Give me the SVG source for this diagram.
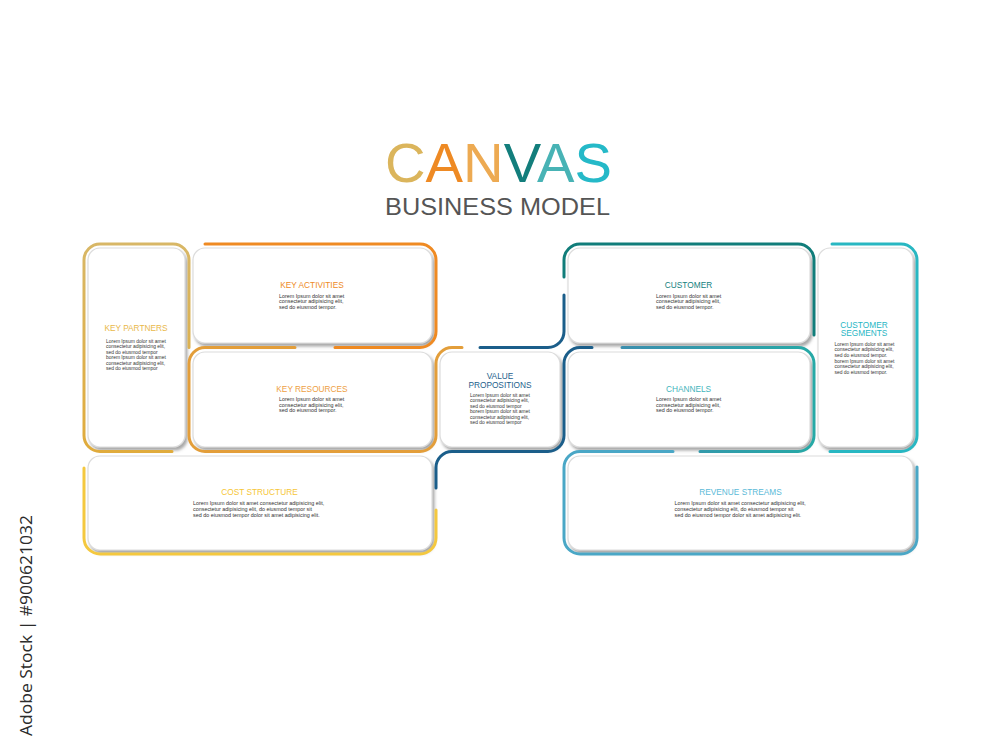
<svg xmlns="http://www.w3.org/2000/svg" width="1000" height="750" viewBox="0 0 1000 750">
<defs>
<filter id="sh" x="-10%" y="-10%" width="125%" height="130%">
<feGaussianBlur in="SourceAlpha" stdDeviation="1.8"/>
<feOffset dx="1.5" dy="2.5" result="b"/>
<feFlood flood-color="#6f6f6f" flood-opacity="0.6"/>
<feComposite in2="b" operator="in"/>
<feMerge><feMergeNode/><feMergeNode in="SourceGraphic"/></feMerge>
</filter>
<linearGradient id="gChan" x1="0" y1="0" x2="1" y2="0">
<stop offset="0" stop-color="#3c8fae"/><stop offset="1" stop-color="#26a9a6"/>
</linearGradient>
<linearGradient id="gKP" x1="0" y1="0" x2="0" y2="1">
<stop offset="0" stop-color="#d8b766"/><stop offset="1" stop-color="#e0ab3c"/>
</linearGradient>
</defs>
<style>
.box{fill:#fff;stroke:#dcdcdc;stroke-width:1.2;filter:url(#sh)}
.ln{fill:none;stroke-width:3;stroke-linecap:round}
.hd{font-family:"Liberation Sans",Arial,sans-serif;font-size:8.3px;text-anchor:middle}
.bd{font-family:"Liberation Sans",Arial,sans-serif;font-size:5.4px;fill:#333}
.bs{font-family:"Liberation Sans",Arial,sans-serif;font-size:4.95px;fill:#333}
</style>
<rect width="1000" height="750" fill="#fff"/>

<g id="title">
<text x="385" y="181.5" font-family="'Liberation Sans',Arial,sans-serif" font-size="55" textLength="227" lengthAdjust="spacingAndGlyphs"><tspan fill="#dbb55c">C</tspan><tspan fill="#ee8a24">A</tspan><tspan fill="#edaa52">N</tspan><tspan fill="#137e7c">V</tspan><tspan fill="#48b3b5">A</tspan><tspan fill="#25b9c8">S</tspan></text>
<text x="385" y="214.5" font-family="'Liberation Sans',Arial,sans-serif" font-size="24" fill="#555" textLength="225" lengthAdjust="spacingAndGlyphs">BUSINESS MODEL</text>
</g>

<g id="key-partners">
<rect class="box" x="88" y="248" width="97" height="199" rx="12"/>
<text class="hd" x="136" y="331" fill="#e9b84a">KEY PARTNERS</text>
<text class="bs"><tspan x="106" y="342.5">Lorem Ipsum dolor sit amet</tspan><tspan x="106" y="348">consectetur adipisicing elit,</tspan><tspan x="106" y="353.5">sed do eiusmod tempor</tspan><tspan x="106" y="359">borem Ipsum dolor sit amet</tspan><tspan x="106" y="364.5">consectetur adipisicing elit,</tspan><tspan x="106" y="370">sed do eiusmod tempor</tspan></text>
</g>

<g id="key-activities">
<rect class="box" x="193" y="248" width="239" height="95" rx="12"/>
<text class="hd" x="312" y="288" fill="#ee8a25">KEY ACTIVITIES</text>
<text class="bd"><tspan x="279" y="297.5">Lorem Ipsum dolor sit amet</tspan><tspan x="279" y="303.3">consectetur adipisicing elit,</tspan><tspan x="279" y="309.1">sed do eiusmod tempor.</tspan></text>
</g>

<g id="key-resources">
<rect class="box" x="193" y="352" width="239" height="95" rx="12"/>
<text class="hd" x="312" y="392" fill="#eea043">KEY RESOURCES</text>
<text class="bd"><tspan x="279" y="400.7">Lorem Ipsum dolor sit amet</tspan><tspan x="279" y="406.5">consectetur adipisicing elit,</tspan><tspan x="279" y="412.3">sed do eiusmod tempor.</tspan></text>
</g>

<g id="value-propositions">
<rect class="box" x="440" y="352" width="120" height="95" rx="12"/>
<text class="hd" fill="#1d5f8c"><tspan x="500" y="379">VALUE</tspan><tspan x="500" y="387.5">PROPOSITIONS</tspan></text>
<text class="bs"><tspan x="470" y="396.5">Lorem Ipsum dolor sit amet</tspan><tspan x="470" y="402">consectetur adipisicing elit,</tspan><tspan x="470" y="407.6">sed do eiusmod tempor</tspan><tspan x="470" y="413.1">borem Ipsum dolor sit amet</tspan><tspan x="470" y="418.7">consectetur adipisicing elit,</tspan><tspan x="470" y="424.3">sed do eiusmod tempor</tspan></text>
</g>

<g id="customer">
<rect class="box" x="568" y="248" width="242" height="95" rx="12"/>
<text class="hd" x="688.5" y="288" fill="#137f80">CUSTOMER</text>
<text class="bd"><tspan x="656" y="297.5">Lorem Ipsum dolor sit amet</tspan><tspan x="656" y="303.3">consectetur adipisicing elit,</tspan><tspan x="656" y="309.1">sed do eiusmod tempor.</tspan></text>
</g>

<g id="channels">
<rect class="box" x="568" y="352" width="242" height="95" rx="12"/>
<text class="hd" x="688.5" y="392" fill="#3fb4bb">CHANNELS</text>
<text class="bd"><tspan x="656" y="400.7">Lorem Ipsum dolor sit amet</tspan><tspan x="656" y="406.5">consectetur adipisicing elit,</tspan><tspan x="656" y="412.3">sed do eiusmod tempor.</tspan></text>
</g>

<g id="customer-segments">
<rect class="box" x="818" y="248" width="95" height="199" rx="12"/>
<text class="hd" fill="#28b6c4"><tspan x="864" y="327.5">CUSTOMER</tspan><tspan x="864" y="336.3">SEGMENTS</tspan></text>
<text class="bs"><tspan x="834.5" y="345.8">Lorem Ipsum dolor sit amet</tspan><tspan x="834.5" y="351.4">consectetur adipisicing elit,</tspan><tspan x="834.5" y="357">sed do eiusmod tempor.</tspan><tspan x="834.5" y="362.7">borem Ipsum dolor sit amet</tspan><tspan x="834.5" y="368.3">consectetur adipisicing elit,</tspan><tspan x="834.5" y="374">sed do eiusmod tempor.</tspan></text>
</g>

<g id="cost-structure">
<rect class="box" x="88" y="456" width="344" height="94" rx="12"/>
<text class="hd" x="259.5" y="494.5" fill="#f6c637">COST STRUCTURE</text>
<text class="bd"><tspan x="193" y="505">Lorem Ipsum dolor sit amet consectetur adipisicing elit,</tspan><tspan x="193" y="511">consectetur adipisicing elit, do eiusmod tempor sit</tspan><tspan x="193" y="517">sed do eiusmod tempor dolor sit amet adipisicing elit.</tspan></text>
</g>

<g id="revenue-streams">
<rect class="box" x="568" y="456" width="345" height="94" rx="12"/>
<text class="hd" x="740.5" y="494.5" fill="#5bbad8">REVENUE STREAMS</text>
<text class="bd"><tspan x="674.5" y="505">Lorem Ipsum dolor sit amet consectetur adipisicing elit,</tspan><tspan x="674.5" y="511">consectetur adipisicing elit, do eiusmod tempor sit</tspan><tspan x="674.5" y="517">sed do eiusmod tempor dolor sit amet adipisicing elit.</tspan></text>
</g>

<g id="connectors">
<path class="ln" stroke="url(#gKP)" d="M189 347.5 V260 A16 16 0 0 0 173 244 H100 A16 16 0 0 0 84 260 V435.5 A16 16 0 0 0 100 451.5 H172"/>
<path class="ln" stroke="#ef8a22" d="M205 244 H420 A16 16 0 0 1 436 260 V331.5 A16 16 0 0 1 420 347.5 H335"/>
<path class="ln" stroke="#e39e3a" d="M295 347.5 H205 A16 16 0 0 0 189 363.5 V435.5 A16 16 0 0 0 205 451.5 H420 A16 16 0 0 0 436 435.5 V363.5 A16 16 0 0 1 452 347.5 H462"/>
<path class="ln" stroke="#1b5e8a" d="M480 347.5 H548 A16 16 0 0 0 564 331.5 V295"/>
<path class="ln" stroke="#1b5e8a" d="M592 347.5 H580 A16 16 0 0 0 564 363.5 V435.5 A16 16 0 0 1 548 451.5 H452 A16 16 0 0 0 436 467.5 V488"/>
<path class="ln" stroke="#117d7a" d="M564 277 V260 A16 16 0 0 1 580 244 H798 A16 16 0 0 1 814 260 V335"/>
<path class="ln" stroke="url(#gChan)" d="M622 347.5 H798 A16 16 0 0 1 814 363.5 V435.5 A16 16 0 0 1 798 451.5 H700"/>
<path class="ln" stroke="#28b7c2" d="M832 244 H901 A16 16 0 0 1 917 260 V435.5 A16 16 0 0 1 901 451.5 H830"/>
<path class="ln" stroke="#f4c83f" d="M84 468 V538 A16 16 0 0 0 100 554 H420 A16 16 0 0 0 436 538 V510"/>
<path class="ln" stroke="#4aa7c6" d="M673 451.5 H580 A16 16 0 0 0 564 467.5 V538 A16 16 0 0 0 580 554 H901 A16 16 0 0 0 917 538 V467"/>
</g>

<text transform="translate(32,736) rotate(-90)" font-family="'Open Sans',sans-serif" font-size="17" fill="#2b2b2b" textLength="221" lengthAdjust="spacingAndGlyphs">Adobe Stock | #900621032</text>
</svg>
